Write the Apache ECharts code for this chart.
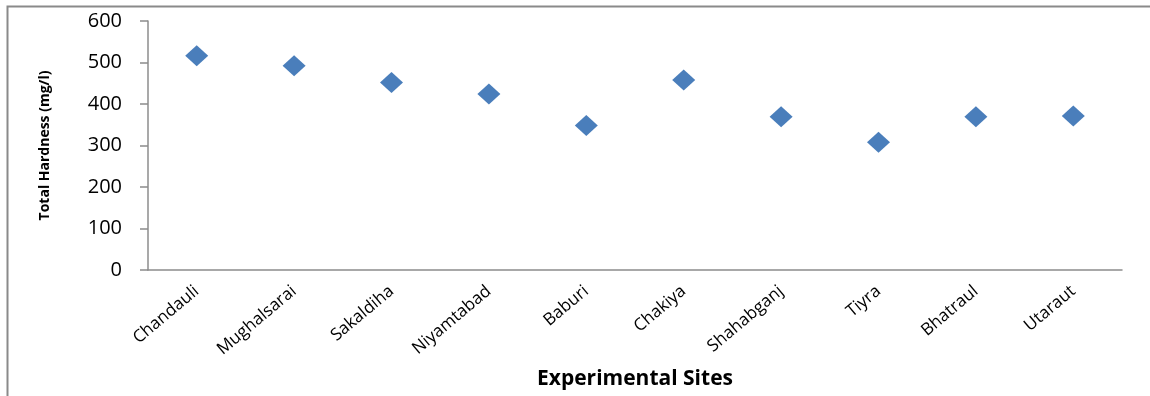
<!DOCTYPE html>
<html>
<head>
<meta charset="utf-8">
<script src="https://cdn.jsdelivr.net/npm/echarts@6/dist/echarts.min.js"></script>
<style>
  html, body { margin: 0; padding: 0; background: #fff; }
  #chart { width: 1150px; height: 396px; }
</style>
</head>
<body>
<div id="chart"></div>
<script>
// Sampling sites and measured total hardness (mg/l)
const sites = ['Chandauli', 'Mughalsarai', 'Sakaldiha', 'Niyamtabad', 'Baburi',
               'Chakiya', 'Shahabganj', 'Tiyra', 'Bhatraul', 'Utaraut'];
const hardness = [516, 492, 452, 424, 348, 458, 369, 308, 369, 371];
const yTicks = [0, 100, 200, 300, 400, 500, 600];

const chart = echarts.init(document.getElementById('chart'), null, { renderer: 'canvas' });
const axisGray = '#8c8c8c';
const font = '"Open Sans", "DejaVu Sans", sans-serif';

chart.setOption({
  animation: false,
  backgroundColor: '#fff',
  graphic: [{
    type: 'rect',
    shape: { x: 7.5, y: 6.5, width: 1200, height: 500 },
    style: { fill: 'none', stroke: '#8a8a8a', lineWidth: 2 },
    silent: true
  }],
  grid: { left: 148, right: 28, top: 21, bottom: 126 },
  xAxis: {
    type: 'category',
    data: sites,
    boundaryGap: true,
    axisLine: { lineStyle: { color: axisGray, width: 1.5 } },
    axisTick: { show: false },
    axisLabel: {
      rotate: 40, interval: 0, margin: 19,
      fontFamily: font, fontSize: 17, color: '#000'
    },
    name: 'Experimental Sites',
    nameLocation: 'middle',
    nameGap: 99,
    nameTextStyle: { fontFamily: font, fontSize: 21, fontWeight: 'bold', color: '#000' }
  },
  yAxis: {
    type: 'value',
    min: yTicks[0],
    max: yTicks[yTicks.length - 1],
    interval: 100,
    axisLine: { show: true, lineStyle: { color: axisGray, width: 1.5 } },
    axisTick: { show: true, length: 8, lineStyle: { color: axisGray, width: 1.5 } },
    splitLine: { show: false },
    axisLabel: { fontFamily: font, fontSize: 20, color: '#000', margin: 26 },
    name: 'Total Hardness (mg/l)',
    nameLocation: 'middle',
    nameGap: 96,
    nameTextStyle: { fontFamily: font, fontSize: 14, fontWeight: 'bold', color: '#000' }
  },
  series: [{
    type: 'scatter',
    data: hardness,
    symbol: 'diamond',
    symbolSize: [23, 21],
    itemStyle: { color: '#4a7ebb', opacity: 1 }
  }]
});
</script>
</body>
</html>
